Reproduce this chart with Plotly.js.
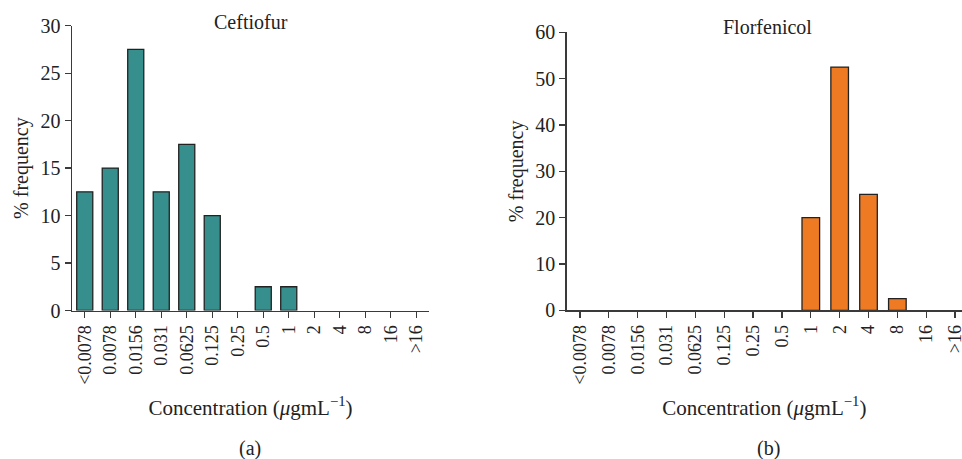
<!DOCTYPE html>
<html>
<head>
<meta charset="utf-8">
<script src="https://cdn.plot.ly/plotly-3.0.1.min.js"></script>
<style>html,body{margin:0;padding:0;background:#fff;}#chart{width:962px;height:459px;}</style>
</head>
<body>
<div id="chart"></div>
<script>
var categories = ["<0.0078", "0.0078", "0.0156", "0.031", "0.0625", "0.125", "0.25", "0.5", "1", "2", "4", "8", "16", ">16"];
var ceftiofur = [12.5, 15, 27.5, 12.5, 17.5, 10, 0, 2.5, 2.5, 0, 0, 0, 0, 0];
var florfenicol = [0, 0, 0, 0, 0, 0, 0, 0, 20, 52.5, 25, 2.5, 0, 0];
var leftTicks = [0, 5, 10, 15, 20, 25, 30];
var rightTicks = [0, 10, 20, 30, 40, 50, 60];

var FONT = "Liberation Serif, Times New Roman, serif";
var INK = "#222222";
var AXC = "#3a3a3a";

function lw(vals) { return vals.map(function (v) { return v > 0 ? 1.3 : 0; }); }

var traces = [
  {type: "bar", x: categories, y: ceftiofur, xaxis: "x", yaxis: "y", width: 0.63,
   marker: {color: "#368f8c", line: {color: INK, width: lw(ceftiofur)}}, hoverinfo: "x+y"},
  {type: "bar", x: categories, y: florfenicol, xaxis: "x2", yaxis: "y2", width: 0.61,
   marker: {color: "#ee7b24", line: {color: INK, width: lw(florfenicol)}}, hoverinfo: "x+y"}
];

function xax(domain, range) {
  return {domain: domain, type: "category", range: range, showgrid: false, zeroline: false,
    showline: true, linecolor: AXC, linewidth: 1.5, ticks: "outside", ticklen: 6, tickwidth: 1.3,
    tickcolor: AXC, tickangle: -90, tickfont: {family: FONT, size: 18, color: INK},
    title: {text: "Concentration (<i>μ</i>gmL<sup>−1</sup>)", font: {family: FONT, size: 21, color: INK}, standoff: 16},
    fixedrange: true};
}
function yax(domain, range, vals, anchor) {
  return {domain: domain, range: range, tickvals: vals, showgrid: false, zeroline: false,
    showline: true, linecolor: AXC, linewidth: 1.5, ticks: "outside", ticklen: 6, tickwidth: 1.3,
    tickcolor: AXC, tickfont: {family: FONT, size: 20, color: INK}, anchor: anchor,
    title: {text: "% frequency", font: {family: FONT, size: 20, color: INK}, standoff: 6},
    fixedrange: true};
}

var layout = {
  width: 962, height: 459,
  margin: {l: 0, r: 0, t: 0, b: 0},
  paper_bgcolor: "#fff", plot_bgcolor: "#fff",
  showlegend: false,
  xaxis: xax([72 / 962, 429 / 962], [-0.5, 13.5]),
  yaxis: yax([1 - 310.5 / 459, 1 - 25.7 / 459], [0, 30], leftTicks, "x"),
  xaxis2: Object.assign(xax([566.7 / 962, 1], [-0.46, 13.24]), {anchor: "y2"}),
  yaxis2: yax([1 - 310.3 / 459, 1 - 32.3 / 459], [0, 60], rightTicks, "x2"),
  annotations: [
    {text: "Ceftiofur", xref: "paper", yref: "paper", x: 250.7 / 962, y: 1 - 22 / 459, showarrow: false,
     font: {family: FONT, size: 20, color: INK}, xanchor: "center", yanchor: "middle"},
    {text: "Florfenicol", xref: "paper", yref: "paper", x: 767 / 962, y: 1 - 27 / 459, showarrow: false,
     font: {family: FONT, size: 20, color: INK}, xanchor: "center", yanchor: "middle"},
    {text: "(a)", xref: "paper", yref: "paper", x: 250 / 962, y: 1 - 448 / 459, showarrow: false,
     font: {family: FONT, size: 20, color: INK}, xanchor: "center", yanchor: "middle"},
    {text: "(b)", xref: "paper", yref: "paper", x: 768 / 962, y: 1 - 448 / 459, showarrow: false,
     font: {family: FONT, size: 20, color: INK}, xanchor: "center", yanchor: "middle"}
  ]
};

Plotly.newPlot("chart", traces, layout, {displayModeBar: false, staticPlot: true});
</script>
</body>
</html>
